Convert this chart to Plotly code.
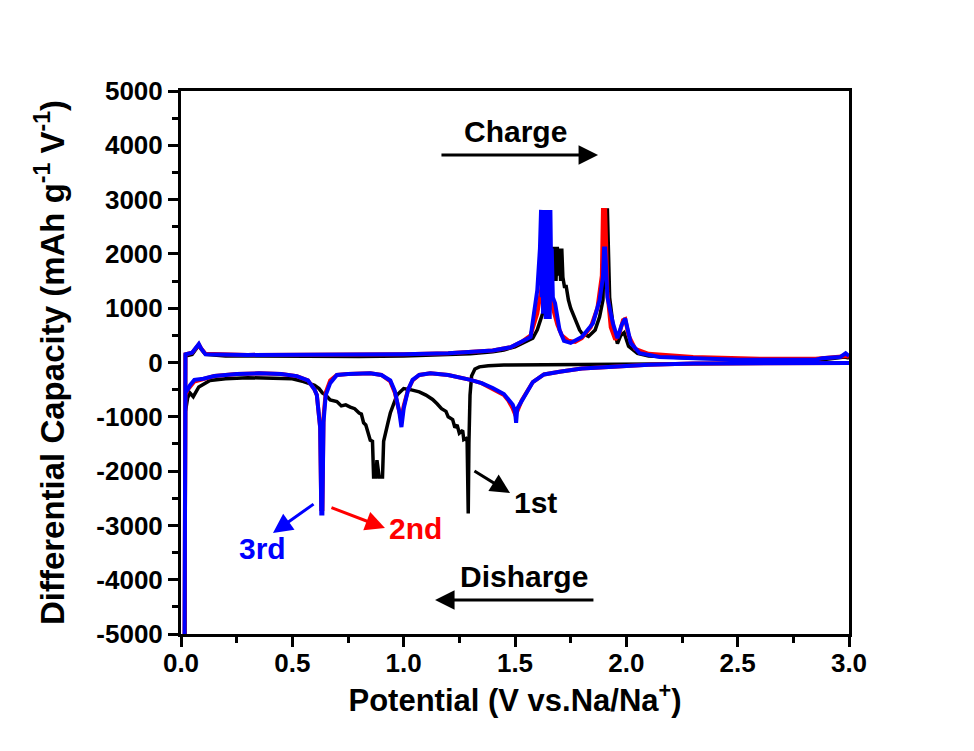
import plotly.graph_objects as go

# ---------------- data ----------------
# 1st cycle (black): discharge from OCV (3.0 V) down to 0.02 V, then charge
c1_dis_x = [3.00, 2.80, 2.50, 2.20, 2.00, 1.80, 1.60, 1.45, 1.38, 1.34, 1.32, 1.305, 1.298, 1.293, 1.290,
            1.285, 1.280, 1.270, 1.265, 1.250, 1.240, 1.230, 1.220, 1.200, 1.190, 1.170, 1.150, 1.130,
            1.100, 1.070, 1.030, 1.000, 0.970, 0.950, 0.940, 0.930, 0.920, 0.910, 0.905, 0.890, 0.880,
            0.875, 0.865, 0.860, 0.850, 0.840, 0.830, 0.820, 0.810, 0.800, 0.780, 0.760, 0.740, 0.720,
            0.700, 0.670, 0.650, 0.635, 0.620, 0.600, 0.550, 0.500, 0.400, 0.300, 0.200, 0.130, 0.080,
            0.055, 0.040, 0.030, 0.020, 0.018]
c1_dis_y = [-5, -10, -15, -20, -25, -30, -35, -45, -60, -80, -120, -250, -600, -1500, -2780,
            -1450, -1400, -1420, -1250, -1300, -1150, -1200, -1050, -1000, -900, -850, -760, -680,
            -600, -540, -500, -480, -600, -800, -930, -1100, -1250, -1450, -2110, -2110, -1800,
            -2110, -2110, -1450, -1430, -1300, -1150, -1110, -950, -930, -850, -820, -780, -800,
            -720, -690, -600, -560, -480, -420, -350, -300, -290, -280, -300, -330, -450,
            -630, -560, -650, -900, -5000]
c1_chg_x = [0.018, 0.020, 0.050, 0.070, 0.080, 0.090, 0.110, 0.200, 0.500, 0.800, 1.000, 1.200, 1.300,
            1.400, 1.450, 1.500, 1.550, 1.580, 1.600, 1.620, 1.640, 1.660, 1.665, 1.672, 1.678, 1.684,
            1.690, 1.696, 1.700, 1.705, 1.710, 1.715, 1.722, 1.730, 1.740, 1.750, 1.770, 1.790, 1.800,
            1.830, 1.860, 1.880, 1.895, 1.905, 1.915, 1.925, 1.940, 1.960, 1.975, 1.990, 2.010, 2.050,
            2.100, 2.300, 2.600, 2.900, 2.980, 3.000]
c1_chg_y = [-5000, 120, 150, 280, 320, 250, 150, 120, 110, 110, 120, 140, 160,
            200, 230, 290, 380, 450, 600, 840, 1100, 1400, 2130, 1500, 2130, 1500,
            2130, 1600, 2100, 1500, 2100, 1570, 1400, 1400, 1150, 1000, 780, 600, 540,
            480, 600, 840, 1150, 2810, 2810, 1200, 700, 350, 500, 550, 300, 170,
            120, 80, 60, 60, 100, 80]

# 2nd cycle (red)
c2_dis_x = [3.00, 2.60, 2.30, 2.10, 1.90, 1.80, 1.70, 1.63, 1.58, 1.55, 1.53, 1.51, 1.50, 1.49, 1.47,
            1.45, 1.40, 1.35, 1.30, 1.25, 1.20, 1.12, 1.07, 1.04, 1.02, 1.00, 0.99, 0.98, 0.96, 0.94,
            0.90, 0.85, 0.80, 0.75, 0.70, 0.67, 0.65, 0.64, 0.635, 0.630, 0.625, 0.61, 0.60, 0.57,
            0.52, 0.45, 0.35, 0.25, 0.15, 0.10, 0.06, 0.04, 0.03, 0.02, 0.016]
c2_dis_y = [-10, -15, -20, -40, -80, -110, -170, -220, -360, -550, -700, -900, -950, -850, -700,
            -600, -480, -380, -320, -270, -230, -200, -230, -330, -500, -800, -1050, -900, -550, -350,
            -230, -200, -200, -210, -230, -330, -550, -1000, -2700, -2700, -1200, -600, -500, -330,
            -250, -210, -200, -210, -250, -300, -350, -450, -500, -600, -5000]
c2_chg_x = [0.016, 0.020, 0.050, 0.070, 0.080, 0.090, 0.110, 0.300, 0.600, 1.000, 1.200, 1.300, 1.400,
            1.480, 1.530, 1.570, 1.600, 1.620, 1.630, 1.645, 1.655, 1.670, 1.690, 1.710, 1.740, 1.770,
            1.800, 1.840, 1.870, 1.890, 1.895, 1.905, 1.915, 1.930, 1.950, 1.970, 1.985, 1.995, 2.010,
            2.040, 2.100, 2.300, 2.600, 2.850, 2.900, 2.970, 2.990, 3.000]
c2_chg_y = [-5000, 150, 180, 300, 330, 260, 160, 140, 140, 150, 170, 190, 220,
            280, 380, 500, 900, 1400, 2700, 2700, 1500, 1000, 700, 500, 400, 380,
            450, 650, 1000, 1600, 2810, 2810, 1300, 650, 420, 550, 780, 800, 500,
            250, 160, 100, 70, 70, 90, 110, 120, 100]

# 3rd cycle (blue)
c3_dis_x = [3.00, 2.60, 2.30, 2.10, 1.90, 1.80, 1.70, 1.63, 1.58, 1.55, 1.53, 1.51, 1.505, 1.50, 1.49,
            1.47, 1.45, 1.40, 1.35, 1.30, 1.25, 1.20, 1.12, 1.07, 1.04, 1.02, 1.00, 0.99, 0.98, 0.96,
            0.94, 0.90, 0.85, 0.80, 0.75, 0.70, 0.67, 0.65, 0.64, 0.635, 0.630, 0.625, 0.61, 0.60,
            0.57, 0.52, 0.45, 0.35, 0.25, 0.15, 0.10, 0.06, 0.04, 0.03, 0.02, 0.016]
c3_dis_y = [-10, -15, -20, -40, -80, -110, -170, -220, -360, -560, -700, -850, -1110, -900, -780,
            -680, -580, -470, -380, -320, -270, -230, -200, -230, -320, -500, -850, -1190, -900, -520,
            -330, -230, -200, -200, -210, -230, -380, -600, -1100, -2780, -2780, -1200, -600, -500,
            -330, -250, -210, -200, -210, -250, -300, -320, -420, -500, -550, -5000]
c3_chg_x = [0.016, 0.020, 0.050, 0.070, 0.080, 0.090, 0.110, 0.300, 0.600, 1.000, 1.200, 1.300, 1.400,
            1.480, 1.530, 1.570, 1.600, 1.612, 1.617, 1.620, 1.623, 1.626, 1.629, 1.632, 1.635, 1.638,
            1.641, 1.644, 1.647, 1.650, 1.653, 1.656, 1.659, 1.662, 1.665, 1.670, 1.680, 1.700, 1.720,
            1.750, 1.800, 1.850, 1.880, 1.895, 1.900, 1.905, 1.915, 1.940, 1.960, 1.980, 1.995, 2.020,
            2.060, 2.150, 2.500, 2.850, 2.880, 2.960, 2.985, 3.000]
c3_chg_y = [-5000, 150, 180, 300, 340, 260, 150, 140, 140, 150, 170, 190, 220,
            280, 380, 470, 1330, 2100, 2810, 1200, 2810, 900, 2810, 1500, 2810, 800,
            2810, 2100, 2810, 1000, 2810, 800, 2810, 1800, 2100, 1200, 1090, 600, 400,
            360, 470, 720, 1150, 1570, 2100, 2100, 1200, 720, 450, 700, 810, 360,
            170, 100, 50, 50, 80, 100, 170, 120]

cycle_names = ["1st", "2nd", "3rd"]
cycle_colors = ["#000000", "#ff0000", "#0000ff"]

x_ticks = [0.0, 0.5, 1.0, 1.5, 2.0, 2.5, 3.0]
x_tick_text = ["0.0", "0.5", "1.0", "1.5", "2.0", "2.5", "3.0"]
y_ticks = [-5000, -4000, -3000, -2000, -1000, 0, 1000, 2000, 3000, 4000, 5000]

FONT = "Arial, Liberation Sans, sans-serif"

fig = go.Figure()
cycles = [
    (c1_dis_x + c1_chg_x, c1_dis_y + c1_chg_y),
    (c2_dis_x + c2_chg_x, c2_dis_y + c2_chg_y),
    (c3_dis_x + c3_chg_x, c3_dis_y + c3_chg_y),
]
widths = [3.5, 4, 4]
for (xs, ys), name, col, w in zip(cycles, cycle_names, cycle_colors, widths):
    fig.add_trace(go.Scatter(x=xs, y=ys, mode="lines", name=name,
                             line=dict(color=col, width=w), showlegend=False))

# ---------------- annotations ----------------
def arrow(x, y, ax, ay, color):
    fig.add_annotation(x=x, y=y, ax=ax, ay=ay, xref="x", yref="y", axref="x", ayref="y",
                       text="", showarrow=True, arrowhead=2, arrowsize=1.3,
                       arrowwidth=3, arrowcolor=color, standoff=0, startstandoff=0)

def label(x, y, txt, color):
    fig.add_annotation(x=x, y=y, xref="x", yref="y", text="<b>%s</b>" % txt, showarrow=False,
                       font=dict(family=FONT, size=30, color=color))

label(1.504, 4246, "Charge", "#000000")
arrow(1.873, 3822, 1.163, 3822, "#000000")
label(1.540, -3933, "Disharge", "#000000")
arrow(1.141, -4375, 1.859, -4375, "#000000")
label(1.590, -2570, "1st", "#000000")
arrow(1.478, -2404, 1.311, -1980, "#000000")
label(1.051, -3049, "2nd", "#ff0000")
arrow(0.916, -3049, 0.669, -2662, "#ff0000")
label(0.364, -3417, "3rd", "#0000ff")
arrow(0.413, -3140, 0.602, -2588, "#0000ff")

axis_common = dict(showline=True, linecolor="black", linewidth=3, mirror=True,
                   ticks="outside", tickwidth=3, ticklen=10, tickcolor="black",
                   showgrid=False, zeroline=False,
                   tickfont=dict(family=FONT, size=26, color="black"))

fig.update_xaxes(range=[0, 3], tickvals=x_ticks, ticktext=["<b>%s</b>" % t for t in x_tick_text],
                 minor=dict(dtick=0.25, ticks="outside", ticklen=6, tickwidth=3, tickcolor="black"),
                 ticklabelstandoff=-6,
                 title=dict(text="<b>Potential (V vs.Na/Na<sup>+</sup>)</b>", standoff=12,
                            font=dict(family=FONT, size=31, color="black")),
                 **axis_common)
fig.update_yaxes(range=[-5000, 5000], tickvals=y_ticks, ticktext=["<b>%d</b>" % v for v in y_ticks],
                 minor=dict(dtick=500, ticks="outside", ticklen=6, tickwidth=3, tickcolor="black"),
                 title=dict(text="<b>Differential Capacity (mAh g<sup>-1</sup> V<sup>-1</sup>)</b>",
                            standoff=22, font=dict(family=FONT, size=33, color="black")),
                 **axis_common)

fig.update_layout(width=974, height=751, paper_bgcolor="white", plot_bgcolor="white",
                  margin=dict(l=173, r=133, t=83, b=125), showlegend=False)

fig.write_html("out.html")
